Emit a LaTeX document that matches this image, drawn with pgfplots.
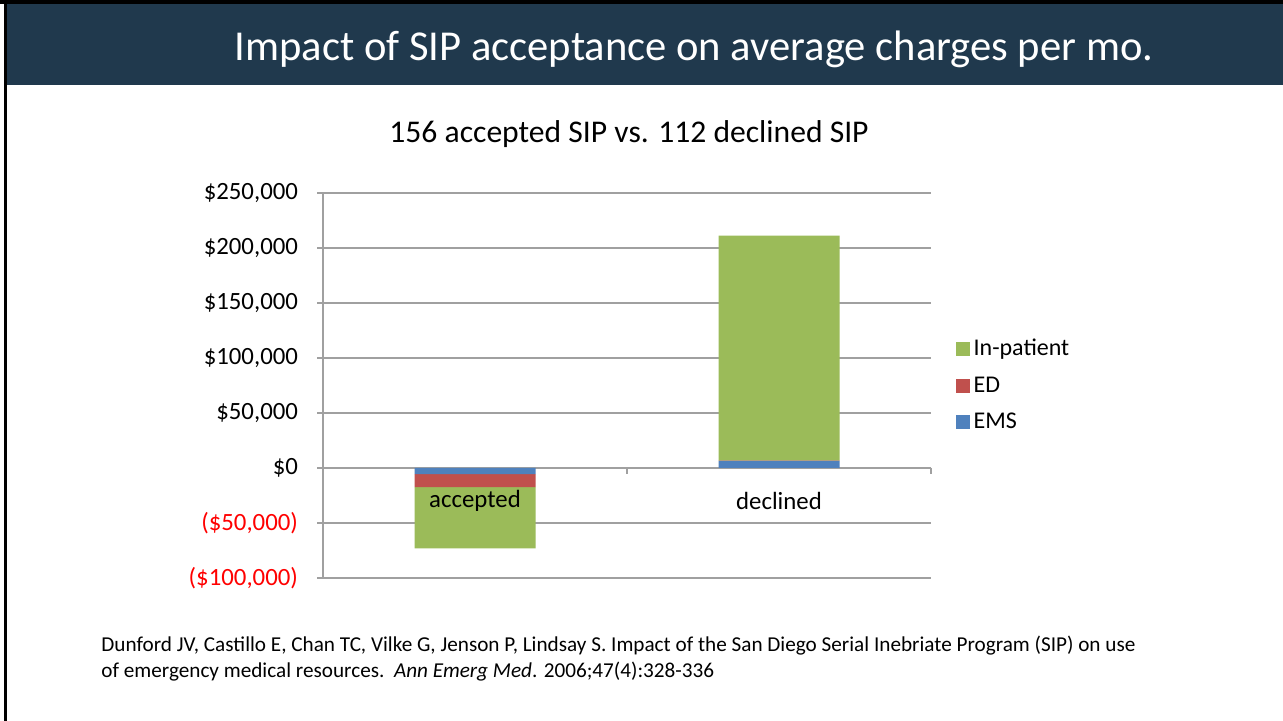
\documentclass[border=0pt]{standalone}
\usepackage{pgfplots}
\pgfplotsset{compat=1.18}
\usepackage{fontspec}
\setmainfont{Carlito}

\definecolor{hdr}{RGB}{32,57,77}
\definecolor{ems}{RGB}{79,129,189}
\definecolor{ed}{RGB}{192,80,77}
\definecolor{inpat}{RGB}{155,187,89}
\definecolor{gridgray}{RGB}{160,160,160}

\newcommand{\fs}[1]{\fontsize{#1}{1.2\dimexpr#1pt\relax}\selectfont}

\begin{document}
\begin{tikzpicture}[x=0.5pt,y=0.5pt]
% slide background (1 unit = 1 px of the reference)
\fill[white] (0,0) rectangle (1283,721);
\fill[hdr] (6,636) rectangle (1283,717);
\fill[black] (0,717) rectangle (1283,721);
\fill[black] (4,0) rectangle (7,721);
\node[text=white, font=\fs{21.3}] at (694,672) {Impact of SIP acceptance on average charges per mo.};
\node[font=\fs{15.8}] at (629,587) {156 accepted SIP vs. 112 declined SIP};

\begin{axis}[
  at={(161.5pt,71.5pt)}, anchor=south west,
  width=304pt, height=192.5pt, scale only axis,
  ybar stacked, bar width=60.5pt,
  xmin=-0.5, xmax=1.5, ymin=-100000, ymax=250000,
  xtick=\empty,
  ytick={-100000,-50000,0,50000,100000,150000,200000,250000},
  scaled y ticks=false,
  yticklabels={{\textcolor{red}{(\$100,000)}},{\textcolor{red}{(\$50,000)}},{\$0},{\$50,000},{\$100,000},{\$150,000},{\$200,000},{\$250,000}},
  yticklabel style={font=\fs{12.4}, xshift=-6pt},
  axis x line=none, axis y line*=left,
  y axis line style={gridgray, line width=0.7pt},
  ytick style={gridgray, line width=0.7pt},
  tick align=outside, major tick length=3pt,
  ymajorgrids, grid style={gridgray, line width=0.6pt},
  legend style={at={(1.03,0.5)}, anchor=west, draw=none, fill=none,
    font=\fs{12}, row sep=5pt,
    /tikz/every even column/.append style={column sep=2pt}},
  legend image code/.code={\fill[#1] (0pt,-3.5pt) rectangle (7pt,3.5pt);},
  reverse legend,
  legend cell align=left,
]
\addplot[fill=ems, draw=none] coordinates {(0,-5500) (1,6400)};
\addplot[fill=ed, draw=none] coordinates {(0,-12000) (1,300)};
\addplot[fill=inpat, draw=none] coordinates {(0,-55500) (1,204500)};
\legend{EMS,ED,In-patient}
\coordinate (t1) at (axis cs:0.5,0);
\coordinate (t2) at (axis cs:1.5,0);
\coordinate (l1) at (axis cs:0,-30000);
\coordinate (l2) at (axis cs:1,-30000);
\end{axis}
\draw[gridgray, line width=0.6pt] (t1) -- ++(0pt,-3pt);
\draw[gridgray, line width=0.6pt] (t2) -- ++(0pt,-3pt);
\node[font=\fs{12.4}] at (l1) {accepted};
\node[font=\fs{12.4}] at (l2) {declined};

\node[anchor=base west, inner sep=0pt, font=\fs{10.6}] at (101,69) {Dunford JV, Castillo E, Chan TC, Vilke G, Jenson P, Lindsay S. Impact of the San Diego Serial Inebriate Program (SIP) on use};
\node[anchor=base west, inner sep=0pt, font=\fs{10.6}] at (101,43) {of emergency medical resources.\ \ \textit{Ann Emerg Med}. 2006;47(4):328-336};
\end{tikzpicture}
\end{document}
